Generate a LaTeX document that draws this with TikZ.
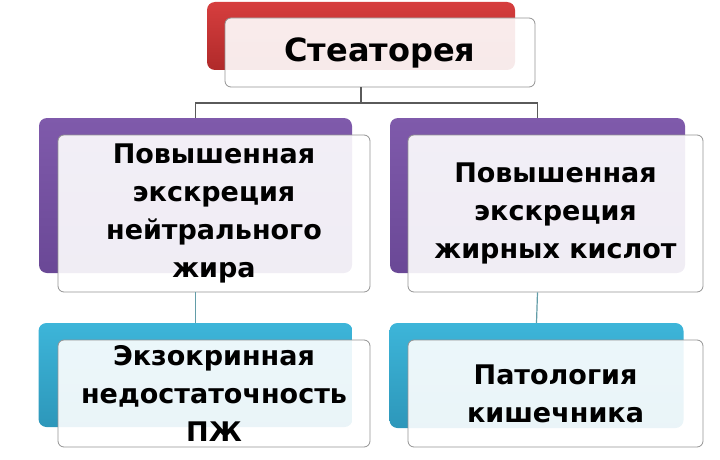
\documentclass[tikz,border=0pt]{standalone}
\usepackage{fontspec}
\setmainfont{DejaVu Sans}
\usepackage{tikz}

\definecolor{redtop}{HTML}{D63E3E}
\definecolor{redbot}{HTML}{B02A2A}
\definecolor{purtop}{HTML}{7F5AAB}
\definecolor{purbot}{HTML}{6A4896}
\definecolor{teatop}{HTML}{3DB5D9}
\definecolor{teabot}{HTML}{2D97BA}
\definecolor{linegray}{HTML}{5A5A5A}
\definecolor{lineteal}{HTML}{639DA8}

\begin{document}
\begin{tikzpicture}[x=1pt,y=-1pt,
    back/.style={rounded corners=8pt,inner sep=0pt},
    front/.style={draw=gray!85,line width=0.8pt,rounded corners=6pt,fill=white,
      fill opacity=0.9,text opacity=1,inner sep=0pt,align=center,
      font=\bfseries\fontsize{27}{38}\selectfont},
    link/.style={draw=linegray,line width=1.2pt}]
\useasboundingbox (0,0) rectangle (720,460);
      \begin{scope}[shift={(0,0)}]
% back boxes
\node[back,top color=redtop,bottom color=redbot,minimum width=308pt,minimum height=68pt] (stb) at (361,36) {};
\node[back,top color=purtop,bottom color=purbot,minimum width=313pt,minimum height=155pt] (nfb) at (195.5,195.5) {};
\node[back,top color=purtop,bottom color=purbot,minimum width=295pt,minimum height=155pt] (fab) at (537.5,195.5) {};
\node[back,top color=teatop,bottom color=teabot,minimum width=314pt,minimum height=104pt] (exb) at (195.5,375) {};
\node[back,top color=teatop,bottom color=teabot,minimum width=294pt,minimum height=105pt] (inb) at (536.5,375.5) {};
% front boxes
\node[front,minimum width=310pt,minimum height=69pt,font=\bfseries\fontsize{32}{38}\selectfont] (st) at (380,52.5) {Стеаторея};
\node[front,minimum width=312pt,minimum height=157pt] (nf) at (214,213.5) {Повышенная\\экскреция\\нейтрального\\жира};
\node[front,minimum width=295pt,minimum height=157pt] (fa) at (555.5,213.5) {Повышенная\\экскреция\\жирных кислот};
\node[front,minimum width=312pt,minimum height=107pt] (ex) at (214,393.5) {Экзокринная\\недостаточность\\ПЖ};
\node[front,minimum width=295pt,minimum height=107pt] (in) at (555.5,393.5) {Патология\\кишечника};
% connectors
\coordinate (split) at (361,103);
\draw[link] (stb.south |- st.south) -- (split);
\draw[link] (nfb.north) |- (split) -| (fab.north);
\draw[link,draw=lineteal] (nfb.south |- nf.south) -- (exb.north);
\draw[link,draw=lineteal] (fab.south |- fa.south) -- (inb.north);
\end{scope}
    \end{tikzpicture}
\end{document}
